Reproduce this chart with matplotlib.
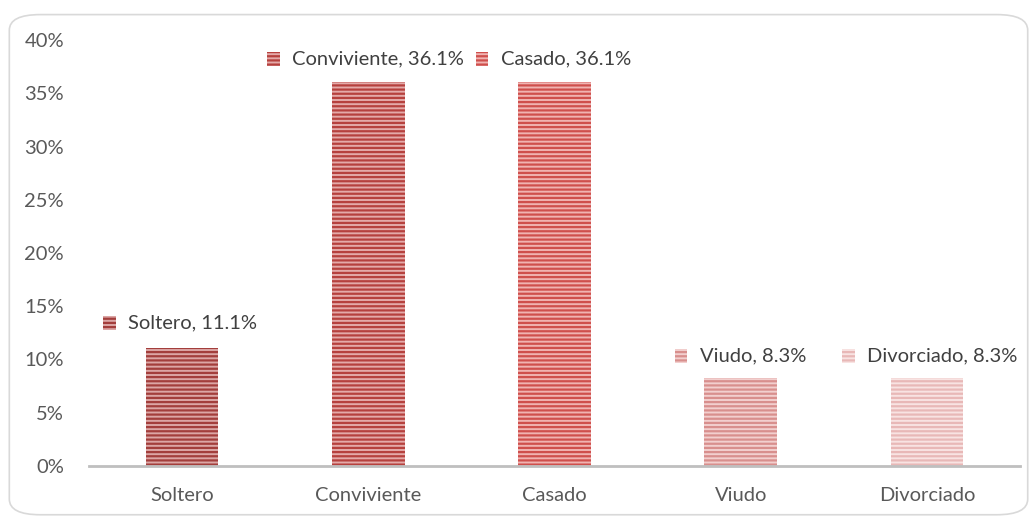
import matplotlib.pyplot as plt
from matplotlib.patches import FancyBboxPatch, Rectangle
from matplotlib.ticker import PercentFormatter

categories = ["Soltero", "Conviviente", "Casado", "Viudo", "Divorciado"]
values = [0.111, 0.361, 0.361, 0.083, 0.083]
labels = ["Soltero, 11.1%", "Conviviente, 36.1%", "Casado, 36.1%", "Viudo, 8.3%", "Divorciado, 8.3%"]

face_colors = ["#dca6a5", "#e4aaa9", "#f0b3b1", "#f2cfce", "#f8e3e2"]
hatch_colors = ["#a33e3c", "#b6413e", "#cf4f4c", "#d88f8d", "#e8b8b7"]

# label placement (square centre x offset from bar, y in data units)
label_dx = [-0.39, -0.51, -0.39, -0.32, -0.42]
label_y = [0.134, 0.3825, 0.3825, 0.103, 0.103]

plt.rcParams['font.family'] = ['Lato', 'DejaVu Sans']
plt.rcParams['hatch.linewidth'] = 1.6

fig = plt.figure(figsize=(10.36, 5.21), dpi=100)
fig.patches.append(FancyBboxPatch((0.009, 0.012), 0.983, 0.96,
                                  boxstyle="round,pad=0,rounding_size=0.03",
                                  transform=fig.transFigure, fill=False,
                                  edgecolor="#d9d9d9", linewidth=1.2))
ax = fig.add_axes([0.0859, 0.1056, 0.8987, 0.8176])

x = range(len(categories))
for i, v in enumerate(values):
    ax.bar(i, v, width=0.39, color=face_colors[i], edgecolor=hatch_colors[i],
           linewidth=0, hatch="----")

    sx = i + label_dx[i]
    ax.add_patch(Rectangle((sx - 0.034, label_y[i] - 0.0065), 0.068, 0.013,
                           facecolor=face_colors[i], edgecolor=hatch_colors[i],
                           linewidth=0, hatch="----", clip_on=False))
    ax.text(sx + 0.1, label_y[i], labels[i], fontsize=14.5, color="#404040",
            va="center", ha="left")

ax.set_xlim(-0.5, 4.5)
ax.set_ylim(0, 0.4)
ax.set_yticks([0, 0.05, 0.1, 0.15, 0.2, 0.25, 0.3, 0.35, 0.4])
ax.yaxis.set_major_formatter(PercentFormatter(1.0, decimals=0))
ax.set_xticks(list(x))
ax.set_xticklabels(categories)
ax.tick_params(axis="both", length=0, labelsize=14.5, colors="#595959")
ax.tick_params(axis="y", pad=18)
ax.tick_params(axis="x", pad=15)
for s in ["top", "right", "left"]:
    ax.spines[s].set_visible(False)
ax.spines["bottom"].set_color("#bfbfbf")
ax.spines["bottom"].set_linewidth(2)

fig.savefig("out.png", dpi=100)
